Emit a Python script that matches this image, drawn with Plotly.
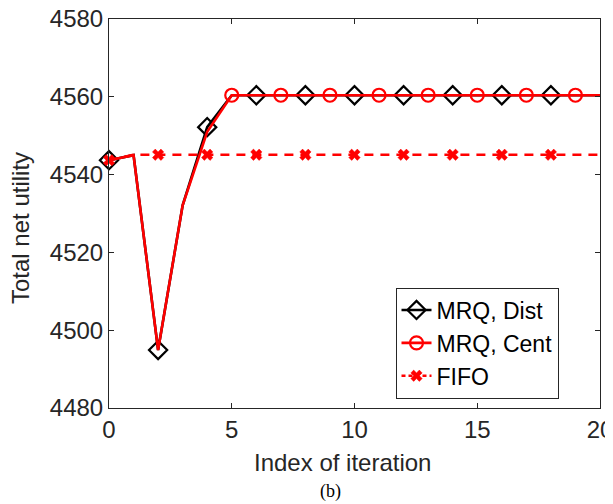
import plotly.graph_objects as go

iterations = list(range(21))
mrq_dist = [4543.7, 4545.0, 4494.9, 4532.1, 4552.2] + [4560.4] * 16
mrq_cent = [4543.7, 4545.0, 4494.9, 4532.1, 4551.0] + [4560.4] * 16
fifo = [4543.7] + [4545.1] * 20

dist_marker_idx = list(range(0, 20, 2))
cent_marker_idx = list(range(5, 20, 2))
fifo_marker_idx = list(range(0, 20, 2))

x_ticks = [0, 5, 10, 15, 20]
y_ticks = [4480, 4500, 4520, 4540, 4560, 4580]

BLACK = "#000000"
RED = "#ff0000"
AX = "#262626"
FONT = "Liberation Sans, Arial, Helvetica, sans-serif"

# the page body has an 8px default margin; size the figure to fill the rest
PAGE_OFF = 8

fig = go.Figure()


def pick(vals, idx):
    return [vals[i] for i in idx]


series = [
    ("MRQ, Dist", mrq_dist, dist_marker_idx, BLACK, "solid",
     dict(symbol="diamond-open", size=14, color=BLACK, line=dict(width=2.2, color=BLACK))),
    ("MRQ, Cent", mrq_cent, cent_marker_idx, RED, "solid",
     dict(symbol="circle-open", size=13, color=RED, line=dict(width=2.2, color=RED))),
    ("FIFO", fifo, fifo_marker_idx, RED, "9px,7px",
     dict(symbol="x", size=10, color=RED, line=dict(width=0.5, color=RED))),
]

for name, vals, idx, col, dash, mk in series:
    fig.add_trace(go.Scatter(x=iterations, y=vals, mode="lines",
                             line=dict(color=col, width=2.6, dash=dash),
                             showlegend=False, hoverinfo="skip"))
    fig.add_trace(go.Scatter(x=pick(iterations, idx), y=pick(vals, idx), mode="markers",
                             marker=mk, showlegend=False, cliponaxis=False))

for name, vals, idx, col, dash, mk in series:
    fig.add_trace(go.Scatter(x=[None], y=[None], mode="lines+markers", name=name,
                             line=dict(color=col, width=2.6, dash=("solid" if dash == "solid" else "4px,3px")),
                             marker=mk))

fig.update_layout(
    width=613 - PAGE_OFF, height=504 - PAGE_OFF,
    margin=dict(l=109 - PAGE_OFF, r=13, t=19 - PAGE_OFF, b=96, autoexpand=False),
    paper_bgcolor="white", plot_bgcolor="white",
    font=dict(family=FONT, size=24, color=AX),
    showlegend=True,
    legend=dict(x=(477 - 109) / 491, y=(408 - 343) / 389, xanchor="center", yanchor="middle",
                bgcolor="white", bordercolor=AX, borderwidth=1,
                font=dict(family=FONT, size=23, color="#000000"),
                itemwidth=30, tracegroupgap=0),
    xaxis=dict(range=[0, 20], tickvals=x_ticks, showgrid=False, zeroline=False,
               showline=True, linecolor=AX, linewidth=1, mirror="ticks",
               ticks="inside", ticklen=5, tickcolor=AX, automargin=False,
               ticklabeloverflow="allow",
               tickfont=dict(family=FONT, size=24, color=AX)),
    yaxis=dict(range=[4480, 4580], tickvals=y_ticks, showgrid=False, zeroline=False,
               showline=True, linecolor=AX, linewidth=1, mirror="ticks",
               ticks="inside", ticklen=5, tickcolor=AX, automargin=False,
               ticklabeloverflow="allow",
               tickfont=dict(family=FONT, size=24, color=AX)),
    annotations=[
        dict(text="Index of iteration", xref="paper", yref="paper",
             x=(342 - 109) / 491, y=(408 - 462) / 389, xanchor="center", yanchor="middle",
             showarrow=False, font=dict(family=FONT, size=24, color=AX)),
        dict(text="Total net utility", xref="paper", yref="paper",
             x=(20 - 109) / 491, y=(408 - 228) / 389, xanchor="center", yanchor="middle",
             textangle=-90, showarrow=False, font=dict(family=FONT, size=24, color=AX)),
        dict(text="(b)", xref="paper", yref="paper",
             x=(330 - 109) / 491, y=(408 - 491) / 389, xanchor="center", yanchor="middle",
             showarrow=False, font=dict(family="Liberation Serif, Times New Roman, serif", size=18, color="#000000")),
    ],
)

fig.write_html("out.html")
